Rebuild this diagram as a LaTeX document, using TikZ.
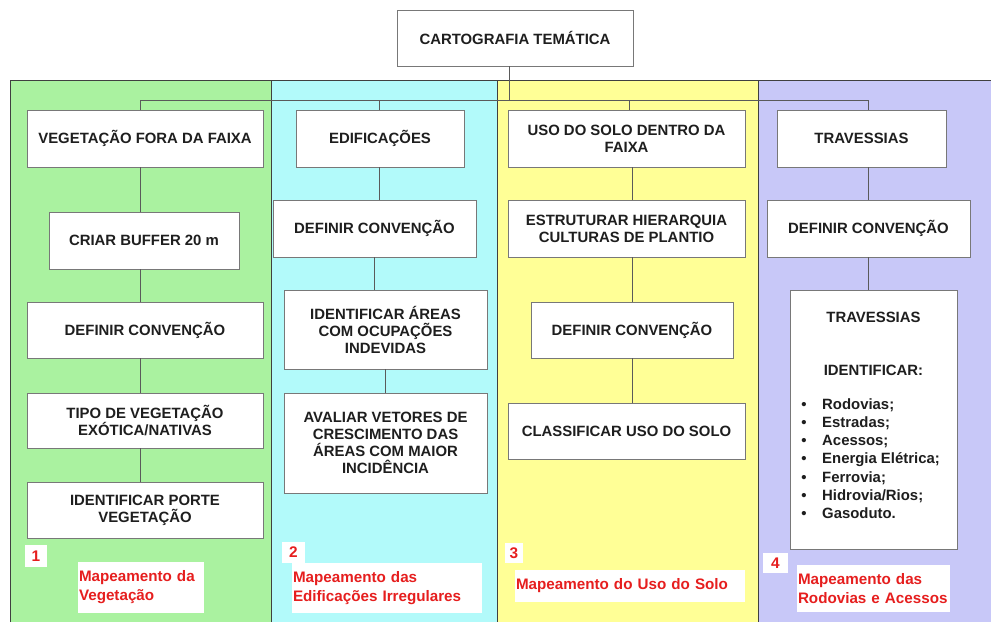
\documentclass[tikz,border=0pt]{standalone}
\usepackage{fontspec}
\setmainfont{Liberation Sans}[BoldFont={Liberation Sans Bold}]
\hyphenpenalty=10000
\exhyphenpenalty=10000
\definecolor{pgreen}{RGB}{170,242,160}
\definecolor{pcyan}{RGB}{178,250,250}
\definecolor{pyellow}{RGB}{255,255,150}
\definecolor{ppurple}{RGB}{200,200,248}
\definecolor{labred}{RGB}{230,30,30}
\definecolor{boxtext}{RGB}{30,30,30}
\definecolor{boxline}{RGB}{120,120,120}
\definecolor{conline}{RGB}{90,90,90}
\tikzset{
  box/.style={draw=boxline, fill=white, line width=0.9pt, align=center, inner sep=0pt,
    text=boxtext, font=\bfseries\fontsize{14.9}{17}\selectfont},
  panelline/.style={draw=black!75, line width=0.8pt},
  conn/.style={draw=conline, line width=0.8pt},
  numbox/.style={fill=white, inner sep=0pt, text=labred, font=\bfseries\fontsize{15.4}{19}\selectfont},
  redbox/.style={fill=white, inner xsep=1pt, inner ysep=0pt, align=left, text=labred,
    font=\bfseries\fontsize{15.2}{19}\selectfont},
  itemtext/.style={anchor=base west, inner sep=0pt, text=boxtext, font=\bfseries\fontsize{14.9}{17}\selectfont},
}
\begin{document}
\begin{tikzpicture}[x=1pt,y=-1pt]
\useasboundingbox (0,0) rectangle (991,622);
% panels
\fill[pgreen] (10,80) rectangle (271,622);
\fill[pcyan] (271,80) rectangle (497,622);
\fill[pyellow] (497,80) rectangle (758,622);
\fill[ppurple] (758,80) rectangle (991,622);
\draw[panelline] (10,622) -- (10,80) -- (991,80);
\draw[panelline] (271,80) -- (271,622);
\draw[panelline] (497,80) -- (497,622);
\draw[panelline] (758,80) -- (758,622);

% top node
\node[box, minimum width=236pt, minimum height=56pt] (top) at (515,38) {CARTOGRAFIA TEMÁTICA};

% panel 1
\node[box, minimum width=236pt, minimum height=57pt] (a1) at (145,138.5) {VEGETAÇÃO FORA DA FAIXA};
\node[box, minimum width=190pt, minimum height=57pt] (a2) at (144,240.5) {CRIAR BUFFER 20 m};
\node[box, minimum width=236pt, minimum height=56pt] (a3) at (145,330) {DEFINIR CONVENÇÃO};
\node[box, minimum width=236pt, minimum height=55pt] (a4) at (145,420.5) {TIPO DE VEGETAÇÃO\\EXÓTICA/NATIVAS};
\node[box, minimum width=236pt, minimum height=56pt] (a5) at (145,510) {IDENTIFICAR PORTE\\VEGETAÇÃO};

% panel 2
\node[box, minimum width=168pt, minimum height=57pt] (b1) at (380,138.5) {EDIFICAÇÕES};
\node[box, minimum width=203pt, minimum height=57pt] (b2) at (374.5,228.5) {DEFINIR CONVENÇÃO};
\node[box, minimum width=203pt, minimum height=79pt] (b3) at (385.5,329.5) {IDENTIFICAR ÁREAS\\COM OCUPAÇÕES\\INDEVIDAS};
\node[box, minimum width=203pt, minimum height=100pt] (b4) at (385.5,443) {AVALIAR VETORES DE\\CRESCIMENTO DAS\\ÁREAS COM MAIOR\\INCIDÊNCIA};

% panel 3
\node[box, minimum width=237pt, minimum height=57pt] (c1) at (626.5,138.5) {USO DO SOLO DENTRO DA\\FAIXA};
\node[box, minimum width=237pt, minimum height=57pt] (c2) at (626.5,228.5) {ESTRUTURAR HIERARQUIA\\CULTURAS DE PLANTIO};
\node[box, minimum width=202pt, minimum height=56pt] (c3) at (632,330) {DEFINIR CONVENÇÃO};
\node[box, minimum width=237pt, minimum height=56pt] (c4) at (626.5,431) {CLASSIFICAR USO DO SOLO};

% panel 4
\node[box, minimum width=169pt, minimum height=57pt] (d1) at (861.5,138.5) {TRAVESSIAS};
\node[box, minimum width=203pt, minimum height=57pt] (d2) at (868.5,228.5) {DEFINIR CONVENÇÃO};
\node[box, minimum width=167pt, minimum height=259pt] (d3) at (873.5,419.5) {};
\node[box, draw=none, fill=none] (d3t) at (873.5,317) {TRAVESSIAS};
\node[box, draw=none, fill=none] (d3i) at (873.5,370) {IDENTIFICAR:};
\foreach \y/\t [count=\i] in {409/{Rodovias;}, 427.3/{Estradas;}, 445.6/{Acessos;}, 463.9/{Energia Elétrica;}, 482.2/{Ferrovia;}, 500.5/{Hidrovia/Rios;}, 518.8/{Gasoduto.}}{
  \node[itemtext] (it\i) at (822,\y) {\t};
  \node[itemtext, anchor=base] (bu\i) at (804,\y) {\textbullet};
}

% connectors
\coordinate (bl) at (140,100);
\coordinate (br) at (868,100);
\coordinate (tj) at (509,100);
\draw[conn] (bl) -- (br);
\draw[conn] (top.south -| tj) -- (tj);
% panel 1
\coordinate (col1) at (140,0);
\draw[conn] (bl) -- (a1.north -| col1);
\draw[conn] (a1.south -| col1) -- (a2.north -| col1);
\draw[conn] (a2.south -| col1) -- (a3.north -| col1);
\draw[conn] (a3.south -| col1) -- (a4.north -| col1);
\draw[conn] (a4.south -| col1) -- (a5.north -| col1);
% panel 2
\coordinate (col2) at (379,100);
\draw[conn] (col2) -- (b1.north -| col2);
\draw[conn] (b1.south -| col2) -- (b2.north -| col2);
\draw[conn] (b2.south) -- (b2.south |- b3.north);
\draw[conn] (b3.south) -- (b3.south |- b4.north);
% panel 3
\coordinate (col3d) at (629,100);
\coordinate (col3) at (632,0);
\draw[conn] (col3d) -- (c1.north -| col3d);
\draw[conn] (c1.south -| col3) -- (c2.north -| col3);
\draw[conn] (c2.south -| col3) -- (c3.north -| col3);
\draw[conn] (c3.south -| col3) -- (c4.north -| col3);
% panel 4
\draw[conn] (br) -- (d1.north -| br);
\draw[conn] (d1.south -| br) -- (d2.north -| br);
\draw[conn] (d2.south -| br) -- (d3.north -| br);

% labels
\node[numbox, minimum width=22pt, minimum height=22pt] (n1) at (36,556) {1};
\node[redbox, minimum height=51pt, text width=124pt] (m1) at (141,587.5) {Mapeamento da\\Vegetação};
\node[numbox, minimum width=23pt, minimum height=21pt] (n2) at (293.5,552.5) {2};
\node[redbox, minimum height=50pt, text width=188pt] (m2) at (387,588) {Mapeamento das\\Edificações Irregulares};
\node[numbox, minimum width=18pt, minimum height=20pt] (n3) at (514,553) {3};
\node[redbox, minimum height=32pt, text width=228pt] (m3) at (630,586) {Mapeamento do Uso do Solo};
\node[numbox, minimum width=25pt, minimum height=20pt] (n4) at (775.5,563) {4};
\node[redbox, minimum height=47pt, text width=151pt] (m4) at (873.5,588.5) {Mapeamento das\\Rodovias e Acessos};
\end{tikzpicture}
\end{document}
